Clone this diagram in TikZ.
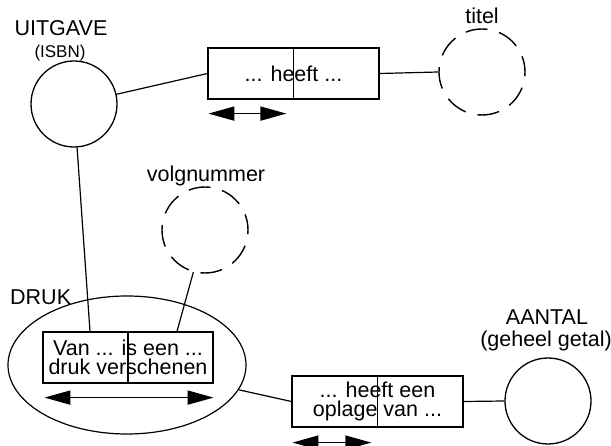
\documentclass[tikz,border=0pt]{standalone}
\usepackage{fontspec}
\setmainfont{Liberation Sans}
\usetikzlibrary{shapes.geometric,arrows.meta}
\begin{document}
\begin{tikzpicture}[x=1pt,y=-1pt,
  ent/.style={circle,draw,line width=1.3pt,minimum size=86pt,inner sep=0pt},
  val/.style={circle,draw,line width=1.4pt,minimum size=86pt,inner sep=0pt,dash pattern=on 22pt off 12pt,dash phase=6pt},
  fact/.style={rectangle,draw,line width=1.2pt,minimum width=171pt,minimum height=51pt,inner sep=0pt,font=\fontsize{21.5}{19}\selectfont,align=center},
  lbl/.style={font=\fontsize{21.5}{20}\selectfont,anchor=base,inner sep=0pt},
  conn/.style={line width=1.2pt},
  dbl/.style={line width=1.7pt,{Triangle[length=26pt,width=14pt]}-{Triangle[length=26pt,width=14pt]}}
]
\useasboundingbox (0,0) rectangle (611,446);

% entity types
\node[ent] (uit) at (74,104) {};
\node[val] (tit) at (482,72) {};
\node[val] (vol) at (205,230) {};
\node[ent] (aant) at (548,401) {};
\node[ellipse,draw,line width=1.2pt,minimum width=238pt,minimum height=138pt,inner sep=0pt] (druk) at (127,365) {};

% labels
\node[lbl] (luit) at (61,36) {UITGAVE};
\node[lbl,font=\fontsize{17}{17}\selectfont] (lisbn) at (60,58) {(ISBN)};
\node[lbl] (ltit) at (482,24) {titel};
\node[lbl] (lvol) at (206,182) {volgnummer};
\node[lbl,anchor=base west] (ldruk) at (10,305) {DRUK};
\node[lbl] (laant) at (547,325) {AANTAL};
\node[lbl] (laant2) at (546,346.5) {(geheel getal)};

% fact types
\node[fact] (b1) at (293.5,73.5) {... heeft ...};
\node[fact,minimum width=170pt] (b2) at (128,357.5) {Van ... is een ...\\druk verschenen};
\node[fact] (b3) at (377.5,401.5) {... heeft een\\oplage van ...};
\draw[conn] (b1.north) -- (b1.south);
\draw[conn] (b2.north) -- (b2.south);
\draw[conn] (b3.north) -- (b3.south);

% connectors
\draw[conn] (uit) -- (b1.west);
\draw[conn] (b1.east) -- (tit.west);
\draw[conn] (uit) -- ([xshift=-38pt]b2.north);
\draw[conn] (vol) -- ([xshift=49pt]b2.north);
\draw[conn] (druk) -- (b3.west);
\draw[conn] (b3.east) -- (aant.west);

% uniqueness arrows
\coordinate (a1l) at ([xshift=1pt,yshift=-14pt]b1.south west);
\coordinate (a1r) at ([xshift=79pt,yshift=-14pt]b1.south west);
\coordinate (a2l) at ([xshift=2pt,yshift=-14pt]b2.south west);
\coordinate (a2r) at ([xshift=0pt,yshift=-14pt]b2.south east);
\coordinate (a3l) at ([xshift=1pt,yshift=-15pt]b3.south west);
\coordinate (a3r) at ([xshift=80pt,yshift=-15pt]b3.south west);
\draw[dbl] (a1l) -- (a1r);
\draw[dbl] (a2l) -- (a2r);
\draw[dbl] (a3l) -- (a3r);
\end{tikzpicture}
\end{document}
